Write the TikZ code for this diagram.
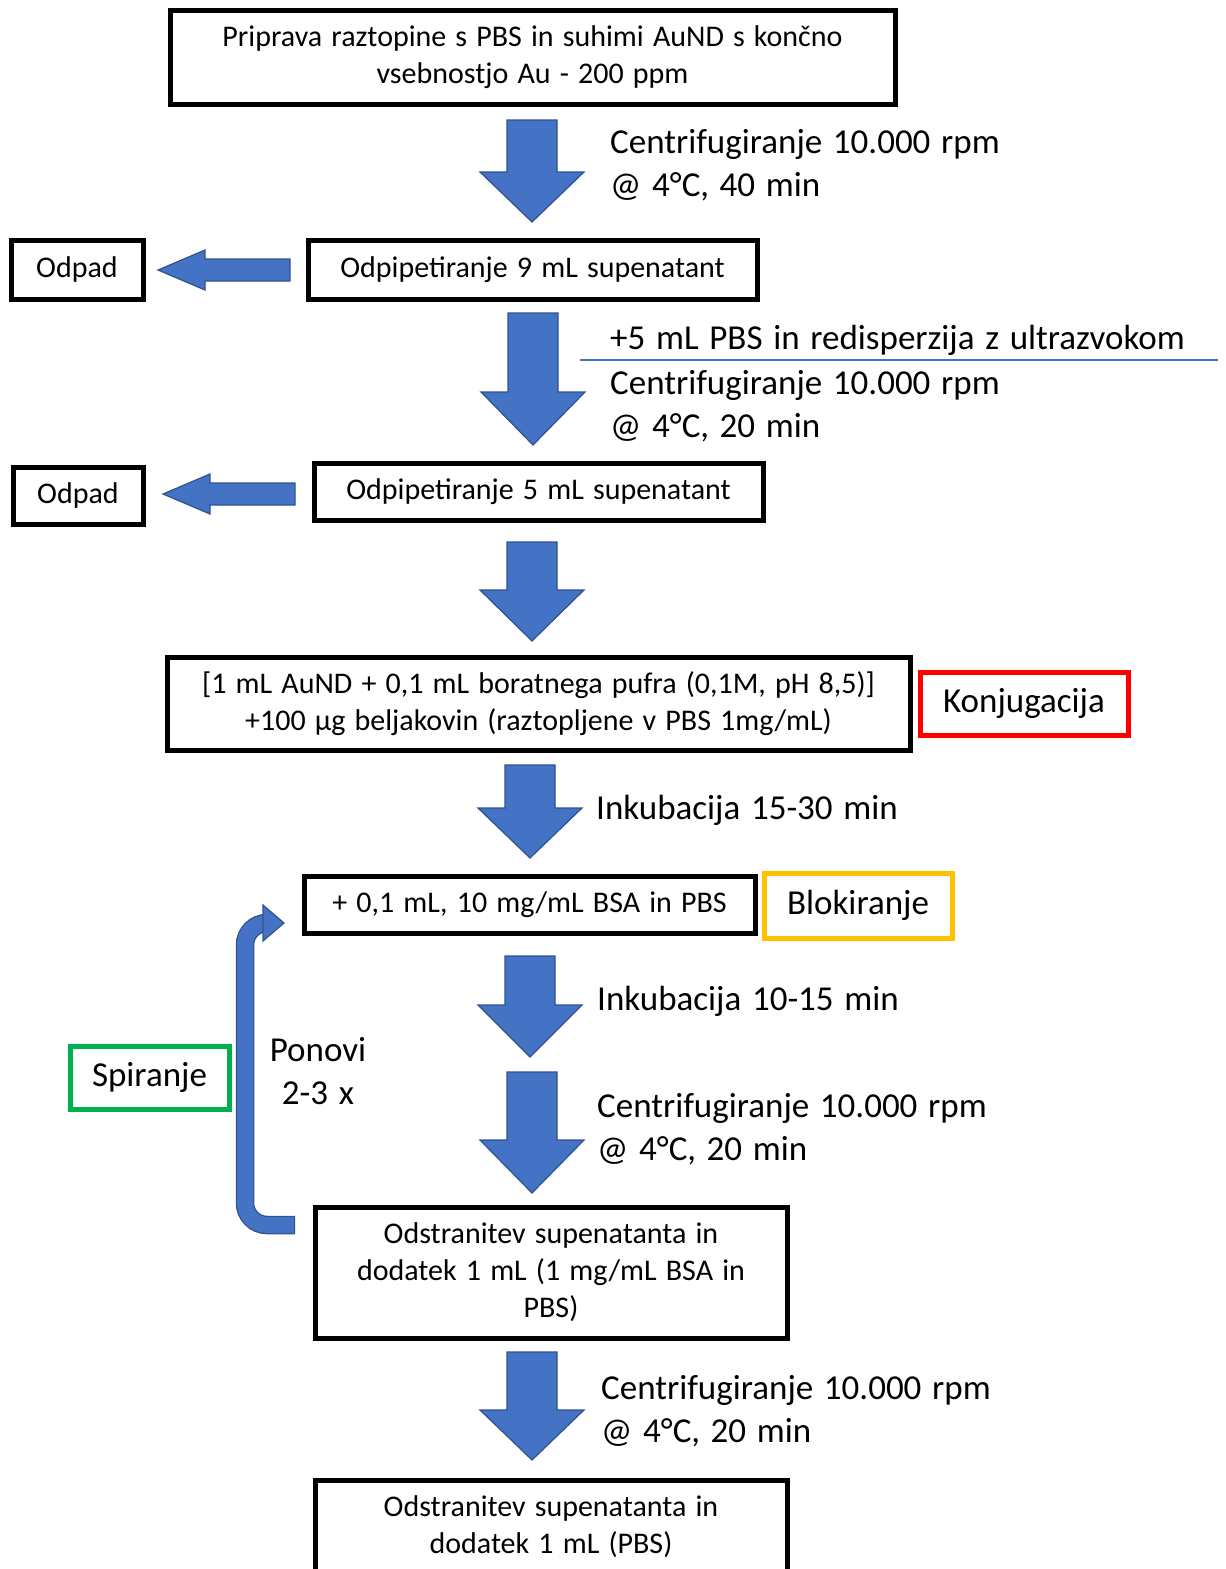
\documentclass[tikz,border=0pt]{standalone}
\usepackage{fontspec}
\setmainfont[WordSpace=1.35]{Carlito}
\definecolor{arrfill}{HTML}{4472C4}
\definecolor{arrline}{HTML}{2F528F}
\definecolor{konjred}{HTML}{FF0000}
\definecolor{blokorange}{HTML}{FFC000}
\definecolor{spirgreen}{HTML}{00B050}
\newcommand{\dnarrow}[4]{% cx, top, headstart, tip
  \filldraw[blockarrow] (#1-25,#2) -- (#1+25,#2) -- (#1+25,#3) -- (#1+52,#3) -- (#1,#4) -- (#1-52,#3) -- (#1-25,#3) -- cycle;}
\newcommand{\lfarrow}[4]{% right end, head base x, tip x, cy
  \filldraw[blockarrow] (#1,#4-11) -- (#1,#4+11) -- (#2,#4+11) -- (#2,#4+20) -- (#3,#4) -- (#2,#4-20) -- (#2,#4-11) -- cycle;}
\tikzset{
  blockarrow/.style={fill=arrfill, draw=arrline, line width=1.2pt, line join=miter},
  stepbox/.style={draw=black, line width=5pt, rectangle, inner sep=0pt, align=center,
    font=\fontsize{30}{37}\selectfont},
  tagbox/.style={rectangle, line width=5pt, inner sep=0pt, align=center,
    font=\fontsize{35}{43}\selectfont},
  sidetext/.style={anchor=west, inner sep=0pt, align=left,
    font=\fontsize{35}{43}\selectfont},
}
\begin{document}
\begin{tikzpicture}[x=1pt,y=-1pt]
\useasboundingbox (0,0) rectangle (1226,1569);
\clip (0,0) rectangle (1226,1569);

% step boxes
\node[stepbox, minimum width=725, minimum height=94] (b1) at (532.5,57)
  {Priprava raztopine s PBS in suhimi AuND s končno\\vsebnostjo Au - 200 ppm};
\node[stepbox, minimum width=449, minimum height=59] (b2) at (532.5,269.5)
  {Odpipetiranje 9 mL supenatant};
\node[stepbox, minimum width=132, minimum height=59] (o1) at (77,269.5) {Odpad};
\node[stepbox, minimum width=449, minimum height=57] (b3) at (538.5,491.5)
  {Odpipetiranje 5 mL supenatant};
\node[stepbox, minimum width=130, minimum height=57] (o2) at (78,495.5) {Odpad};
\node[stepbox, minimum width=743, minimum height=93] (b4) at (538.5,703.5)
  {[1 mL AuND + 0,1 mL boratnega pufra (0,1M, pH 8,5)]\\+100 µg beljakovin (raztopljene v PBS 1mg/mL)};
\node[tagbox, draw=konjred, minimum width=208, minimum height=63] (konj) at (1024,703.5) {Konjugacija};
\node[stepbox, minimum width=451, minimum height=57] (b5) at (529.5,904.5)
  {+ 0,1 mL, 10 mg/mL BSA in PBS};
\node[tagbox, draw=blokorange, minimum width=188, minimum height=65] (blok) at (858,905.5) {Blokiranje};
\node[tagbox, draw=spirgreen, minimum width=159, minimum height=63] (spir) at (149.5,1077.5) {Spiranje};
\node[stepbox, minimum width=472, minimum height=131] (b6) at (551,1272.5)
  {Odstranitev supenatanta in\\dodatek 1 mL (1 mg/mL BSA in\\PBS)};
\node[stepbox, minimum width=472, minimum height=104, anchor=north] (b7) at (551,1478)
  {};
\node[inner sep=0pt, align=center, font=\fontsize{30}{37}\selectfont] (b7t) at (551,1527)
  {Odstranitev supenatanta in\\dodatek 1 mL (PBS)};

% block arrows
\dnarrow{532}{120}{172}{222}
\dnarrow{533}{313}{392}{445}
\dnarrow{532}{542}{590}{641}
\dnarrow{530}{765}{808}{858}
\dnarrow{530}{956}{1005}{1057}
\dnarrow{532}{1072}{1140}{1193}
\dnarrow{532}{1352}{1410}{1460}
\lfarrow{290}{205}{158}{270}
\lfarrow{295}{210}{163}{494}

% side texts
\node[sidetext] (t1) at (610,165) {Centrifugiranje 10.000 rpm\\@ 4°C, 40 min};
\node[sidetext] (t2a) at (610,340.5) {+5 mL PBS in redisperzija z ultrazvokom};
\coordinate (sepL) at (580,360);
\coordinate (sepR) at (1218,360);
\draw[arrfill, line width=1.5pt] (sepL) -- (sepR);
\node[sidetext] (t2b) at (610,406) {Centrifugiranje 10.000 rpm\\@ 4°C, 20 min};
\node[sidetext] (t3) at (596,810.5) {Inkubacija 15-30 min};
\node[sidetext] (t4) at (597,1001.5) {Inkubacija 10-15 min};
\node[sidetext] (t5) at (597,1129) {Centrifugiranje 10.000 rpm\\@ 4°C, 20 min};
\node[sidetext] (t6) at (601,1411.5) {Centrifugiranje 10.000 rpm\\@ 4°C, 20 min};
\node[inner sep=0pt, align=center, font=\fontsize{35}{43}\selectfont] (pon) at (318,1071.5) {Ponovi\\2-3 x};

% repeat loop arrow
\coordinate (loopS) at (295,1225);
\coordinate (loopE) at (264,923);
\draw[arrline, line width=18.5pt, rounded corners=22pt] (loopS) -- (245,1225) -- (245,923) -- (loopE);
\draw[arrfill, line width=16pt, rounded corners=22pt] ([xshift=-1.2pt]loopS) -- (245,1225) -- (245,923) -- ([xshift=1pt]loopE);
\filldraw[blockarrow] (263,905) -- (284,923) -- (263,941) -- cycle;
\end{tikzpicture}
\end{document}
